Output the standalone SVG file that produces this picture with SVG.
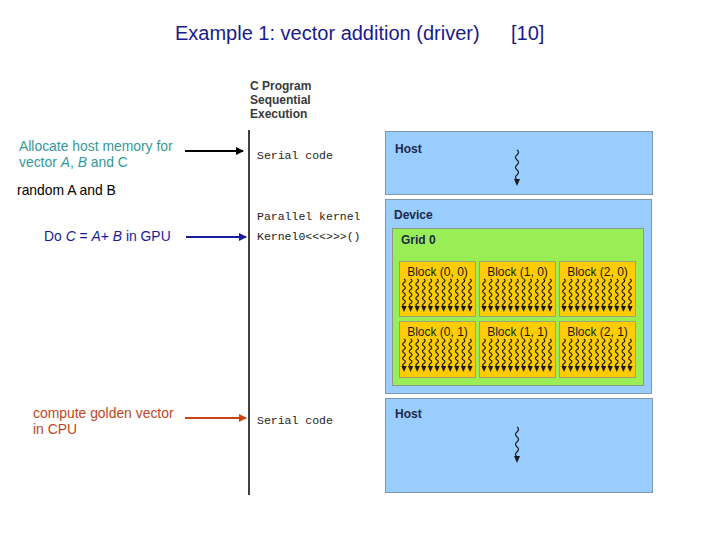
<svg xmlns="http://www.w3.org/2000/svg" xmlns:xlink="http://www.w3.org/1999/xlink" width="720" height="540" viewBox="0 0 720 540">
<style>
.title{font-family:"Liberation Sans",Arial,sans-serif;font-size:20px;fill:#1a1a8c}
.note{font-family:"Liberation Sans",Arial,sans-serif;font-size:13.9px}
.hdr{font-family:"Liberation Sans",Arial,sans-serif;font-size:12px;font-weight:bold;fill:#3a3a3a}
.code{font-family:"Liberation Mono","Courier New",monospace;font-size:11.5px;fill:#222}
.lbl{font-family:"Liberation Sans",Arial,sans-serif;font-size:12px;font-weight:bold;fill:#1a2a4a}
.blk{font-family:"Liberation Sans",Arial,sans-serif;font-size:12px;fill:#1a1a1a;text-anchor:middle}
.host{fill:#99ccff;stroke:#7f98b2;stroke-width:1}
.grid{fill:#99ee55;stroke:#8a9a8a;stroke-width:1}
.block{fill:#ffcc00;stroke:#a0a070;stroke-width:1}
.wig{fill:none;stroke:#1a1a1a;stroke-width:1.2}
.conn{fill:none;stroke-width:2}
</style>
<defs>
<marker id="ahK" markerWidth="8" markerHeight="8" refX="7" refY="4" orient="auto" markerUnits="userSpaceOnUse"><path d="M0,0 L8,4 L0,8 Z" fill="#000"/></marker>
<marker id="ahB" markerWidth="8" markerHeight="8" refX="7" refY="4" orient="auto" markerUnits="userSpaceOnUse"><path d="M0,0 L8,4 L0,8 Z" fill="#1a1a99"/></marker>
<marker id="ahO" markerWidth="8" markerHeight="8" refX="7" refY="4" orient="auto" markerUnits="userSpaceOnUse"><path d="M0,0 L8,4 L0,8 Z" fill="#cc4411"/></marker>
<g id="th">
<path class="wig" d="M0,0 q2.6,1.5 0,3.5 q-2.6,1.5 0,3.5 q2.6,1.5 0,3.5 q-2.6,1.5 0,3.5 q2.6,1.5 0,3.5 q-2.6,1.5 0,3.5 q2.6,1.5 0,3.5 q-2.6,1.5 0,3"/>
<path d="M-2.6,27 L2.6,27 L0,33 Z" fill="#1a1a1a"/>
</g>
<g id="threads">
<use xlink:href="#th" x="5"/><use xlink:href="#th" x="11.6"/><use xlink:href="#th" x="18.2"/><use xlink:href="#th" x="24.8"/><use xlink:href="#th" x="31.4"/><use xlink:href="#th" x="38"/><use xlink:href="#th" x="44.6"/><use xlink:href="#th" x="51.2"/><use xlink:href="#th" x="57.8"/><use xlink:href="#th" x="64.4"/><use xlink:href="#th" x="71"/>
</g>
<g id="hostThread">
<path class="wig" stroke-width="1.3" d="M0,0 q3,2 0,5 q-3,2 0,5 q3,2 0,5 q-3,2 0,5 q3,2 0,5 q-3,2 0,5"/>
<path d="M-3,29 L3,29 L0,36 Z" fill="#1a1a1a"/>
</g>
</defs>
<rect width="720" height="540" fill="#fff"/>

<g id="title">
<text class="title" x="175" y="40">Example 1: vector addition (driver)</text>
<text class="title" x="511" y="40">[10]</text>
</g>

<g id="notes">
<text class="note" x="19" y="151" fill="#339999">Allocate host memory for</text>
<text class="note" x="19" y="167" fill="#339999">vector <tspan font-style="italic">A</tspan>, <tspan font-style="italic">B</tspan> and C</text>
<text class="note" x="17" y="195" fill="#000">random A and B</text>
<text class="note" x="44" y="241" fill="#1a1a99">Do <tspan font-style="italic">C</tspan> = <tspan font-style="italic">A</tspan>+ <tspan font-style="italic">B</tspan> in GPU</text>
<text class="note" x="33" y="418" fill="#c0451f">compute golden vector</text>
<text class="note" x="33" y="434" fill="#c0451f">in CPU</text>
</g>

<g id="program">
<text class="hdr" x="250" y="90">C Program</text>
<text class="hdr" x="250" y="104">Sequential</text>
<text class="hdr" x="250" y="118">Execution</text>
<line x1="249" y1="130" x2="249" y2="495" stroke="#000" stroke-width="1.5"/>
<text class="code" x="257" y="159">Serial code</text>
<text class="code" x="257" y="220">Parallel kernel</text>
<text class="code" x="257" y="240">Kernel0&lt;&lt;&lt;&gt;&gt;&gt;()</text>
<text class="code" x="257" y="424">Serial code</text>
</g>

<g id="host1">
<rect class="host" x="385.5" y="131.5" width="267" height="63"/>
<text class="lbl" x="395" y="153">Host</text>
<use xlink:href="#hostThread" x="517" y="150"/>
</g>

<g id="device">
<rect class="host" x="385.5" y="199.5" width="266" height="194"/>
<text class="lbl" x="394" y="219">Device</text>
<g id="grid0">
<rect class="grid" x="392.5" y="228.5" width="251" height="157"/>
<text class="lbl" x="401" y="244" font-size="11">Grid 0</text>
</g>
<g id="block00"><rect class="block" x="399.5" y="261.5" width="76" height="55"/><text class="blk" x="437.5" y="276">Block (0, 0)</text><use xlink:href="#threads" x="399" y="279"/></g>
<g id="block10"><rect class="block" x="479.5" y="261.5" width="76" height="55"/><text class="blk" x="517.5" y="276">Block (1, 0)</text><use xlink:href="#threads" x="479" y="279"/></g>
<g id="block20"><rect class="block" x="559.5" y="261.5" width="76" height="55"/><text class="blk" x="597.5" y="276">Block (2, 0)</text><use xlink:href="#threads" x="559" y="279"/></g>
<g id="block01"><rect class="block" x="399.5" y="321.5" width="76" height="56"/><text class="blk" x="437.5" y="336">Block (0, 1)</text><use xlink:href="#threads" x="399" y="339"/></g>
<g id="block11"><rect class="block" x="479.5" y="321.5" width="76" height="56"/><text class="blk" x="517.5" y="336">Block (1, 1)</text><use xlink:href="#threads" x="479" y="339"/></g>
<g id="block21"><rect class="block" x="559.5" y="321.5" width="76" height="56"/><text class="blk" x="597.5" y="336">Block (2, 1)</text><use xlink:href="#threads" x="559" y="339"/></g>
</g>

<g id="host2">
<rect class="host" x="385.5" y="398.5" width="267" height="94"/>
<text class="lbl" x="395" y="418">Host</text>
<use xlink:href="#hostThread" x="517" y="427"/>
</g>

<g id="connectors">
<line class="conn" x1="185" y1="151" x2="243" y2="151" stroke="#000" marker-end="url(#ahK)"/>
<line class="conn" x1="186" y1="237" x2="246" y2="237" stroke="#1a1a99" marker-end="url(#ahB)"/>
<line class="conn" x1="185" y1="418" x2="246" y2="418" stroke="#cc4411" marker-end="url(#ahO)"/>
</g>
</svg>
